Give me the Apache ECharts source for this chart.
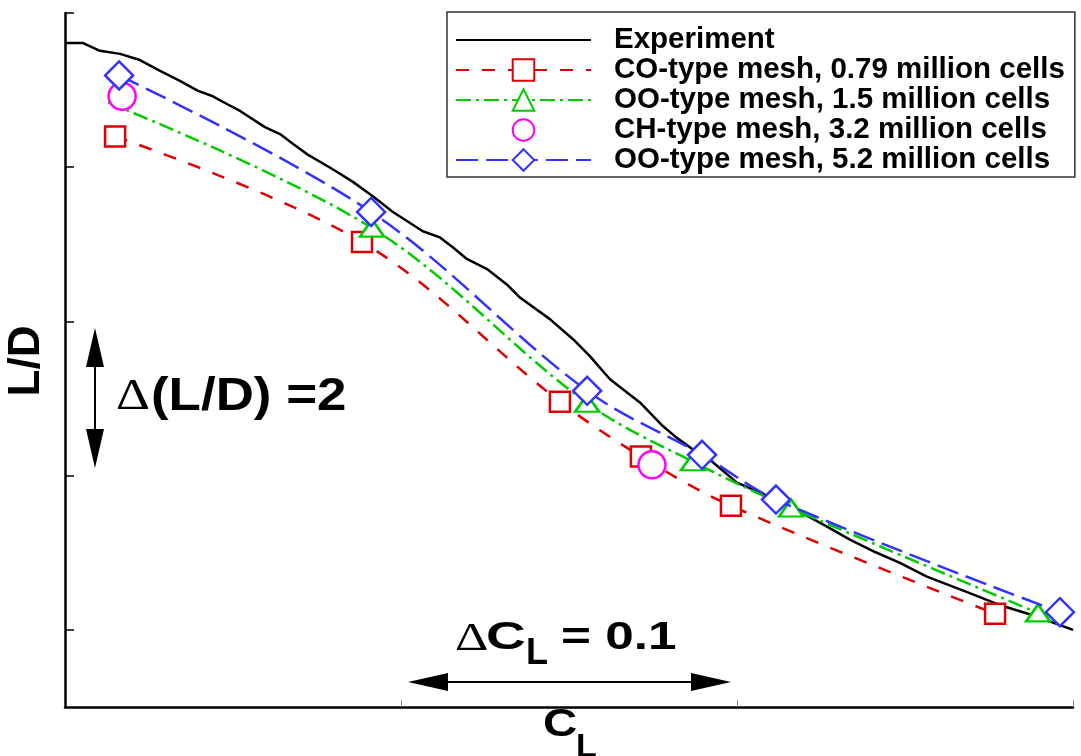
<!DOCTYPE html>
<html>
<head>
<meta charset="utf-8">
<script src="https://cdn.jsdelivr.net/npm/echarts@6/dist/echarts.min.js"></script>
<style>
html,body{margin:0;padding:0;background:#fff;}
#chart{width:1081px;height:756px;}
</style>
</head>
<body>
<div id="chart"></div>
<script>
// ---- data (CL, L/D) ----
const seriesNames = [
  'Experiment',
  'CO-type mesh, 0.79 million cells',
  'OO-type mesh, 1.5 million cells',
  'CH-type mesh, 3.2 million cells',
  'OO-type mesh, 5.2 million cells'
];
const expCL = [0.3000,0.3054,0.3104,0.3164,0.3223,0.3283,0.3342,0.3396,0.3440,0.3482,0.3521,0.3595,0.3640,0.3679,0.3720,0.3798,0.3857,0.3917,0.3976,0.4065,0.4116,0.4155,0.4196,0.4256,0.4315,0.4354,0.4443,0.4512,0.4562,0.4622,0.4711,0.4780,0.4821,0.4869,0.4929,0.5000,0.5048,0.5137,0.5268,0.5336,0.5411,0.5485,0.5565,0.5685,0.5783,0.5881,0.6000];
const expLD = [17.61,17.61,17.51,17.47,17.39,17.25,17.12,16.99,16.92,16.82,16.73,16.52,16.43,16.30,16.17,15.97,15.81,15.62,15.42,15.17,15.09,14.96,14.81,14.68,14.48,14.31,14.03,13.77,13.55,13.25,12.95,12.64,12.49,12.34,12.17,11.91,11.82,11.65,11.34,11.17,11.01,10.87,10.69,10.49,10.32,10.19,10.00];
const coCL = [0.3149,0.3884,0.4473,0.4714,0.4982,0.5768];
const coLD = [16.40,15.03,12.96,12.25,11.61,10.21];
const oo15CL = [0.3128,0.3914,0.4554,0.4869,0.5161,0.5896];
const oo15LD = [16.84,15.21,12.94,12.18,11.58,10.22];
const chCL = [0.3170,0.4747];
const chLD = [16.92,12.14];
const oo52CL = [0.3161,0.3911,0.4554,0.4896,0.5116,0.5961];
const oo52LD = [17.19,15.42,13.10,12.27,11.69,10.23];
const xTicks = [0.4,0.5,0.6];
const yTicks = [10,12,14,16,18];

const zip = (a,b) => a.map((v,i)=>[v,b[i]]);
const SANS = '"Liberation Sans", Arial, sans-serif';
const SERIF = '"Liberation Serif", "Times New Roman", serif';
const RED='#dd0000', GREEN='#00cc00', MAG='#ff00ff', BLUE='#3333ff';

const chart = echarts.init(document.getElementById('chart'), null, {renderer:'canvas'});

function txt(x, y, text, font, opts) {
  opts = opts || {};
  return Object.assign({
    type:'text', x:x, y:y, silent:true, z:50,
    style:{text:text, font:font, fill:'#000', align:'left', verticalAlign:'middle', textAlign:'left', textVerticalAlign:'middle'}
  }, opts);
}
function tri(points){ return {type:'polygon', silent:true, z:50, shape:{points:points}, style:{fill:'#000'}}; }
function seg(x1,y1,x2,y2){ return {type:'line', silent:true, z:50, shape:{x1:x1,y1:y1,x2:x2,y2:y2}, style:{stroke:'#000', lineWidth:2}}; }

const greenData = zip(oo15CL, oo15LD).map((p,i)=> i===0 ? {value:p, symbol:'none'} : p);

const legendData = seriesNames.map((n,i)=> i===0 ? {name:n, itemStyle:{opacity:0, color:'rgba(0,0,0,0)', borderWidth:0}} : {name:n});

const option = {
  animation:false,
  backgroundColor:'#fff',
  grid:{left:65, right:8, top:13, bottom:49, containLabel:false},
  xAxis:{
    type:'value', min:0.3, max:0.6,
    axisLine:{show:true, onZero:false, lineStyle:{color:'#000', width:2.5}},
    axisTick:{show:true, inside:true, length:7, customValues:xTicks, lineStyle:{color:'#888', width:1}},
    axisLabel:{show:false}, splitLine:{show:false}
  },
  yAxis:{
    type:'value', min:9, max:18,
    axisLine:{show:true, onZero:false, lineStyle:{color:'#000', width:2.5}},
    axisTick:{show:true, inside:true, length:9, customValues:yTicks, lineStyle:{color:'#000', width:1.5}},
    axisLabel:{show:false}, splitLine:{show:false}
  },
  legend:{
    orient:'vertical', left:447, top:12,
    itemWidth:135, itemHeight:27, itemGap:0,
    padding:[13,10,2,8],
    borderColor:'#333', borderWidth:1.5, backgroundColor:'#fff',
    textStyle:{fontFamily:SANS, fontWeight:'bold', fontSize:29.5, color:'#000', lineHeight:30, padding:[0,0,0,18]},
    data:legendData, selectedMode:false
  },
  series:[
    {name:seriesNames[0], type:'line', data:zip(expCL,expLD), symbol:'none', showSymbol:false,
     lineStyle:{color:'#000', width:2.5}, itemStyle:{color:'rgba(0,0,0,0)', borderWidth:0}, silent:true, clip:false, z:2},
    {name:seriesNames[1], type:'line', data:zip(coCL,coLD), smooth:0.35, symbol:'rect', symbolSize:20,
     lineStyle:{color:RED, width:2.5, type:[13,13]}, itemStyle:{color:'#fff', borderColor:RED, borderWidth:2.5}, silent:true, clip:false, z:3},
    {name:seriesNames[2], type:'line', data:greenData, smooth:0.35, symbol:'triangle', symbolSize:[24,17],
     lineStyle:{color:GREEN, width:2.5, type:[15,5,3,5]}, itemStyle:{color:'#fff', borderColor:GREEN, borderWidth:2.5}, silent:true, clip:false, z:4},
    {name:seriesNames[3], type:'line', data:zip(chCL,chLD), symbol:'circle', symbolSize:27,
     lineStyle:{color:MAG, width:0, opacity:0}, itemStyle:{color:'#fff', borderColor:MAG, borderWidth:2.5}, silent:true, clip:false, z:5},
    {name:seriesNames[4], type:'line', data:zip(oo52CL,oo52LD), smooth:0.35, symbol:'diamond', symbolSize:28,
     lineStyle:{color:BLUE, width:2.5, type:[22,8]}, itemStyle:{color:'#fff', borderColor:BLUE, borderWidth:2.5}, silent:true, clip:false, z:6}
  ],
  graphic:{elements:[
    // y-axis title
    txt(27, 361, 'L/D', 'bold 44px '+SANS, {rotation:Math.PI/2, style:{text:'L/D', font:'bold 44px '+SANS, fill:'#000', align:'center', verticalAlign:'middle', textAlign:'center', textVerticalAlign:'middle'}}),
    // x-axis title C_L
    txt(543, 726, 'C', 'bold 38px '+SANS, {scaleX:1.25}),
    txt(576, 748, 'L', 'bold 34px '+SANS),
    // Delta(L/D) = 2 annotation
    seg(95, 360, 95, 440),
    tri([[95,328],[86,367],[104,367]]),
    tri([[95,468],[86,429],[104,429]]),
    txt(116, 397, 'Δ', '44px '+SERIF, {scaleX:1.2}),
    txt(151, 397, '(L/D) =2', 'bold 46px '+SANS, {scaleX:1.15}),
    // Delta CL = 0.1 annotation
    seg(440, 682, 700, 682),
    tri([[408,682],[448,673],[448,691]]),
    tri([[731,682],[691,673],[691,691]]),
    txt(455, 639, 'Δ', '40px '+SERIF, {scaleX:1.3}),
    txt(486, 639, 'C', 'bold 38px '+SANS, {scaleX:1.45}),
    txt(526, 654, 'L', 'bold 36px '+SANS),
    txt(561, 639, '= 0.1', 'bold 38px '+SANS, {scaleX:1.35})
  ]}
};
chart.setOption(option);
</script>
</body>
</html>
